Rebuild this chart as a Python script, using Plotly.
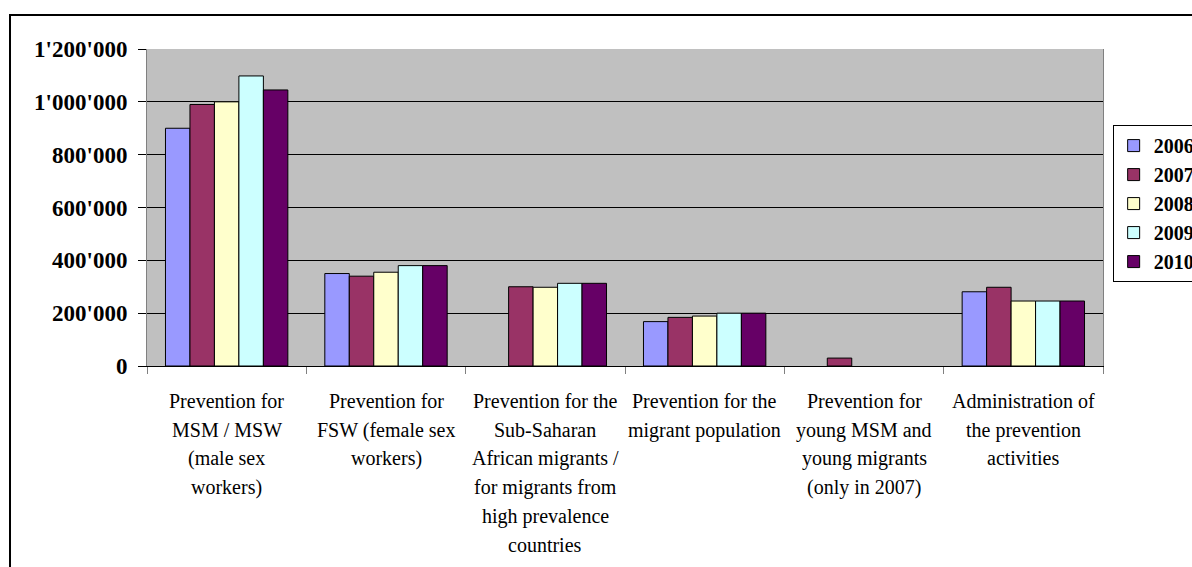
import plotly.graph_objects as go

# Prevention budget by activity and year (CHF)
categories = [
    "Prevention for<br>MSM / MSW<br>(male sex<br>workers)",
    "Prevention for<br>FSW (female sex<br>workers)",
    "Prevention for the<br>Sub-Saharan<br>African migrants /<br>for migrants from<br>high prevalence<br>countries",
    "Prevention for the<br>migrant population",
    "Prevention for<br>young MSM and<br>young migrants<br>(only in 2007)",
    "Administration of<br>the prevention<br>activities",
]
years = ["2006", "2007", "2008", "2009", "2010"]
values_2006 = [900000, 350000, None, 168000, None, 281000]
values_2007 = [990000, 340000, 300000, 184000, 30000, 298000]
values_2008 = [1000000, 355000, 298000, 189000, None, 246000]
values_2009 = [1098000, 380000, 313000, 200000, None, 246000]
values_2010 = [1045000, 380000, 313000, 200000, None, 246000]
series = [values_2006, values_2007, values_2008, values_2009, values_2010]
colors = ["#9999FF", "#993366", "#FFFFCC", "#CCFFFF", "#660066"]

y_tickvals = [0, 200000, 400000, 600000, 800000, 1000000, 1200000]
y_ticktext = ["0", "200'000", "400'000", "600'000", "800'000", "1'000'000", "1'200'000"]

FONT = "'Liberation Serif', 'Times New Roman', 'DejaVu Serif', serif"

fig = go.Figure()
for name, vals, col in zip(years, series, colors):
    fig.add_trace(go.Bar(
        name=name, x=categories, y=vals,
        marker=dict(color=col, line=dict(color="#000000", width=1)),
    ))

# Category labels, one annotation per line for wider line spacing
LINE_STEP = 28.7
for cat in categories:
    for i, line in enumerate(cat.split("<br>")):
        fig.add_annotation(
            x=cat, xref="x", y=0, yref="paper", yanchor="top",
            yshift=-(22 + i * LINE_STEP), text=line, showarrow=False,
            font=dict(family=FONT, size=20, color="#000000"),
        )

# Outer chart border (left/top visible)
fig.add_shape(type="rect", xref="paper", yref="paper",
              x0=-0.1433, x1=1.12, y0=-0.70, y1=1.107,
              line=dict(color="#000000", width=2), layer="above")

fig.update_layout(
    width=1192, height=567,
    margin=dict(l=147, r=89, t=49, b=201, autoexpand=False),
    paper_bgcolor="#FFFFFF", plot_bgcolor="#C0C0C0",
    barmode="group", bargap=0.232, bargroupgap=0,
    font=dict(family=FONT, color="#000000"),
    legend=dict(
        x=1.0101, y=0.760, xanchor="left", yanchor="top",
        bgcolor="#FFFFFF", bordercolor="#000000", borderwidth=1,
        font=dict(family=FONT, size=20, color="#000000", weight="bold"),
        tracegroupgap=0,
    ),
    showlegend=True,
)
fig.update_xaxes(
    type="category", showticklabels=False, ticks="outside", tickson="boundaries",
    ticklen=7, tickcolor="#808080", showline=True, linecolor="#000000", linewidth=1,
    showgrid=False,
)
fig.update_yaxes(
    range=[0, 1200000], tickvals=y_tickvals, ticktext=y_ticktext,
    ticks="outside", ticklen=8, tickcolor="#000000", ticklabelstandoff=6,
    showline=True, linecolor="#808080", mirror=True,
    showgrid=True, gridcolor="#000000", gridwidth=1, zeroline=False,
    tickfont=dict(family=FONT, size=23, color="#000000", weight="bold"),
)

fig.write_html("out.html")
